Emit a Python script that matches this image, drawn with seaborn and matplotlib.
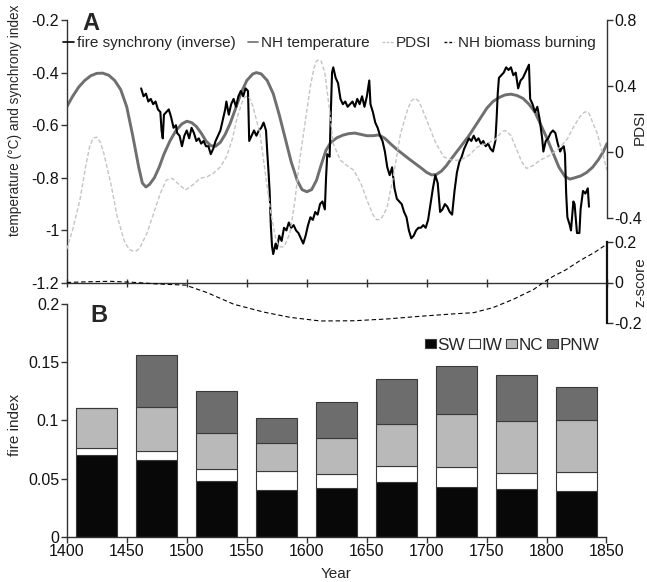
import matplotlib
matplotlib.use("Agg")
import matplotlib.pyplot as plt
import seaborn as sns
from matplotlib.lines import Line2D
from matplotlib.patches import Patch
from matplotlib.ticker import FuncFormatter

# ── Data ─────────────────────────────────────────────────────────────────────

# NH temperature (°C), left axis of panel A
temp_years = [1400, 1405, 1410, 1415, 1420, 1425, 1430, 1435, 1440, 1445, 1450,
              1455, 1460, 1463, 1466, 1469, 1473, 1477, 1481, 1486, 1491, 1496,
              1500, 1504, 1508, 1512, 1516, 1520, 1524, 1528, 1532, 1536, 1540,
              1545, 1550, 1555, 1558, 1562, 1567, 1572, 1577, 1582, 1587, 1592,
              1596, 1600, 1604, 1608, 1612, 1616, 1620, 1625, 1630, 1635, 1640,
              1645, 1650, 1655, 1660, 1665, 1670, 1675, 1680, 1685, 1690, 1695,
              1700, 1704, 1708, 1712, 1716, 1720, 1725, 1730, 1735, 1740, 1745,
              1750, 1755, 1760, 1765, 1770, 1775, 1780, 1785, 1790, 1795, 1800,
              1805, 1810, 1815, 1819, 1823, 1828, 1833, 1838, 1843, 1847, 1850]
temp_vals = [-0.53, -0.49, -0.455, -0.43, -0.412, -0.403, -0.402, -0.41, -0.43,
             -0.465, -0.53, -0.64, -0.76, -0.82, -0.835, -0.825, -0.80, -0.76,
             -0.71, -0.66, -0.62, -0.595, -0.585, -0.59, -0.605, -0.63, -0.66,
             -0.678, -0.68, -0.665, -0.635, -0.595, -0.545, -0.48, -0.43,
             -0.405, -0.40, -0.405, -0.43, -0.48, -0.56, -0.65, -0.74, -0.81,
             -0.845, -0.853, -0.845, -0.81, -0.75, -0.695, -0.665, -0.648,
             -0.638, -0.632, -0.63, -0.635, -0.64, -0.64, -0.637, -0.65, -0.672,
             -0.692, -0.71, -0.728, -0.745, -0.762, -0.78, -0.789, -0.787,
             -0.775, -0.755, -0.73, -0.70, -0.67, -0.64, -0.605, -0.57, -0.535,
             -0.51, -0.495, -0.485, -0.482, -0.487, -0.498, -0.52, -0.55, -0.60,
             -0.65, -0.705, -0.76, -0.795, -0.805, -0.80, -0.793, -0.78, -0.76,
             -0.73, -0.70, -0.67]

# PDSI, right axis of panel A
pdsi_years = [1400, 1405, 1411, 1416, 1419, 1422, 1425, 1428, 1431, 1437, 1442,
              1448, 1452, 1455, 1458, 1461, 1467, 1472, 1478, 1483, 1488, 1494,
              1499, 1505, 1511, 1517, 1522, 1528, 1533, 1538, 1542, 1546, 1548,
              1550, 1552, 1555, 1561, 1566, 1570, 1574, 1576, 1578, 1580, 1582,
              1586, 1590, 1594, 1599, 1603, 1606, 1608, 1610, 1612, 1615, 1619,
              1622, 1628, 1633, 1639, 1645, 1650, 1655, 1658, 1661, 1664, 1667,
              1672, 1678, 1684, 1687, 1690, 1693, 1695, 1700, 1707, 1714, 1721,
              1728, 1735, 1742, 1749, 1756, 1761, 1763, 1765, 1767, 1770, 1775,
              1779, 1783, 1789, 1794, 1800, 1806, 1811, 1817, 1822, 1828, 1831,
              1833, 1835, 1838, 1842, 1846, 1850]
pdsi_vals = [-0.59, -0.47, -0.29, -0.08, 0.03, 0.085, 0.09, 0.06, -0.01, -0.2,
             -0.39, -0.54, -0.59, -0.6, -0.6, -0.58, -0.49, -0.38, -0.25, -0.17,
             -0.16, -0.2, -0.23, -0.2, -0.16, -0.15, -0.13, -0.09, -0.03, 0.08,
             0.21, 0.3, 0.33, 0.34, 0.33, 0.28, 0.11, -0.16, -0.37, -0.52, -0.56,
             -0.575, -0.575, -0.56, -0.49, -0.3, -0.05, 0.2, 0.4, 0.51, 0.55,
             0.56, 0.55, 0.48, 0.25, 0.05, -0.05, -0.08, -0.11, -0.19, -0.29,
             -0.38, -0.41, -0.41, -0.38, -0.33, -0.15, 0.11, 0.26, 0.31, 0.325,
             0.31, 0.28, 0.19, 0.06, -0.03, -0.05, -0.05, -0.02, 0.03, 0.05, 0.07,
             0.11, 0.125, 0.13, 0.12, 0.1, 0.01, -0.06, -0.1, -0.08, -0.05, -0.03,
             0.0, 0.03, 0.08, 0.15, 0.22, 0.24, 0.245, 0.235, 0.18, 0.11, 0.0,
             -0.11]

# fire synchrony (inverse), left axis of panel A
fire_years = [1462, 1464, 1466, 1468, 1470, 1472, 1474, 1476, 1478, 1479, 1480,
              1481, 1483, 1485, 1487, 1489, 1491, 1492, 1494, 1496, 1498, 1500,
              1502, 1504, 1506, 1508, 1510, 1512, 1514, 1516, 1518, 1520, 1522,
              1524, 1526, 1528, 1530, 1532, 1533, 1535, 1537, 1539, 1541, 1543,
              1545, 1547, 1549, 1551, 1552, 1554, 1556, 1558, 1560, 1562, 1564,
              1566, 1567, 1568, 1569, 1570, 1571, 1572, 1574, 1575, 1577, 1579,
              1581, 1583, 1585, 1587, 1589, 1591, 1593, 1595, 1597, 1599, 1601,
              1603, 1605, 1607, 1609, 1611, 1613, 1615, 1616, 1617, 1619, 1620,
              1621, 1622, 1624, 1626, 1628, 1630, 1632, 1634, 1636, 1638, 1640,
              1642, 1644, 1646, 1648, 1650, 1652, 1653, 1655, 1657, 1659, 1661,
              1663, 1665, 1667, 1669, 1671, 1673, 1675, 1677, 1679, 1681, 1683,
              1685, 1687, 1689, 1691, 1693, 1695, 1697, 1699, 1701, 1703, 1705,
              1707, 1709, 1711, 1713, 1715, 1717, 1719, 1721, 1723, 1725, 1727,
              1729, 1731, 1733, 1735, 1737, 1739, 1741, 1743, 1745, 1747, 1749,
              1751, 1753, 1755, 1757, 1758, 1759, 1760, 1762, 1764, 1766, 1768,
              1770, 1772, 1774, 1776, 1778, 1780, 1782, 1784, 1785, 1786, 1788,
              1790, 1792, 1794, 1796, 1797, 1799, 1801, 1803, 1805, 1807, 1809,
              1811, 1812, 1814, 1815, 1816, 1817, 1819, 1820, 1822, 1823, 1825,
              1827, 1828, 1830, 1832, 1834, 1835]
fire_vals = [-0.46, -0.49, -0.48, -0.51, -0.50, -0.52, -0.51, -0.54, -0.55,
             -0.62, -0.65, -0.56, -0.55, -0.54, -0.57, -0.61, -0.60, -0.63,
             -0.64, -0.68, -0.64, -0.62, -0.65, -0.61, -0.63, -0.66, -0.65,
             -0.67, -0.66, -0.68, -0.68, -0.71, -0.69, -0.66, -0.64, -0.62,
             -0.58, -0.54, -0.51, -0.56, -0.52, -0.50, -0.53, -0.49, -0.47,
             -0.49, -0.46, -0.47, -0.66, -0.64, -0.62, -0.64, -0.62, -0.61,
             -0.59, -0.62, -0.70, -0.77, -0.85, -0.98, -1.06, -1.09, -1.05,
             -1.07, -1.02, -1.04, -0.99, -1.00, -0.97, -0.99, -0.98, -1.00,
             -1.01, -1.03, -1.05, -1.02, -0.98, -0.95, -0.96, -0.93, -0.94,
             -0.90, -0.89, -0.92, -0.80, -0.71, -0.72, -0.55, -0.40, -0.38,
             -0.42, -0.44, -0.50, -0.52, -0.51, -0.53, -0.52, -0.51, -0.53,
             -0.50, -0.52, -0.49, -0.53, -0.49, -0.43, -0.52, -0.55, -0.59,
             -0.61, -0.64, -0.66, -0.70, -0.76, -0.79, -0.76, -0.84, -0.88,
             -0.89, -0.90, -0.93, -0.95, -1.00, -1.03, -1.02, -1.00, -0.99,
             -0.99, -0.98, -0.99, -0.96, -0.90, -0.84, -0.79, -0.82, -0.93,
             -0.92, -0.90, -0.91, -0.93, -0.94, -0.85, -0.78, -0.74, -0.72,
             -0.69, -0.67, -0.65, -0.66, -0.64, -0.66, -0.65, -0.67, -0.66,
             -0.68, -0.67, -0.69, -0.70, -0.66, -0.58, -0.48, -0.42, -0.41,
             -0.40, -0.38, -0.39, -0.38, -0.41, -0.40, -0.46, -0.43, -0.42,
             -0.40, -0.38, -0.37, -0.50, -0.52, -0.55, -0.53, -0.58, -0.65,
             -0.70, -0.66, -0.65, -0.63, -0.62, -0.63, -0.67, -0.70, -0.69,
             -0.68, -0.71, -0.86, -0.95, -0.98, -1.00, -0.89, -0.90, -1.01,
             -1.01, -0.92, -0.85, -0.86, -0.84, -0.91]

# NH biomass burning (z-score)
bb_years = [1400, 1414, 1436, 1455, 1475, 1499, 1517, 1539, 1564, 1586, 1611,
            1639, 1667, 1694, 1722, 1739, 1755, 1772, 1789, 1797, 1805, 1815,
            1828, 1840, 1850]
bb_vals = [0.0, 0.003, 0.006, 0.001, -0.007, -0.013, -0.05, -0.107, -0.146,
           -0.172, -0.19, -0.189, -0.18, -0.167, -0.155, -0.149, -0.124,
           -0.083, -0.034, 0.0, 0.03, 0.06, 0.11, 0.15, 0.19]

# Panel B: fire index by region, 50-yr bins
bin_centers = [1425, 1475, 1525, 1575, 1625, 1675, 1725, 1775, 1825]
sw = [0.070, 0.066, 0.048, 0.040, 0.0415, 0.0466, 0.0424, 0.0406, 0.0389]
iw = [0.006, 0.008, 0.0105, 0.0168, 0.0125, 0.014, 0.0171, 0.0138, 0.0168]
nc = [0.035, 0.0372, 0.0304, 0.0235, 0.0309, 0.036, 0.0463, 0.0448, 0.0444]
pnw = [0.0, 0.0448, 0.036, 0.0214, 0.0312, 0.0392, 0.0406, 0.0398, 0.0285]

# ── Style ────────────────────────────────────────────────────────────────────

sns.set_theme(style="ticks")
plt.rcParams["font.family"] = ["Liberation Sans", "DejaVu Sans"]
plt.rcParams["axes.unicode_minus"] = False

W, H = 647, 582
fig = plt.figure(figsize=(W / 100, H / 100), dpi=100)
fmt = FuncFormatter(lambda v, p: f"{v:g}")


def box(x0, y_top, x1, y_bot):
    # pixel box -> figure fractions
    return [x0 / W, 1 - y_bot / H, (x1 - x0) / W, (y_bot - y_top) / H]


TICK = 11.5
SPINE = "#333333"

# ── Panel B ──────────────────────────────────────────────────────────────────

axB = fig.add_axes(box(66.7, 304, 606.5, 536.7))
edge = "#3a3a3a"
bw = 34
b_iw = [a for a in sw]
b_nc = [a + b for a, b in zip(sw, iw)]
b_pnw = [a + b + c for a, b, c in zip(sw, iw, nc)]
axB.bar(bin_centers, sw, width=bw, color="#080808", edgecolor=edge, lw=0.8, label="SW")
axB.bar(bin_centers, iw, width=bw, bottom=b_iw, color="white", edgecolor=edge, lw=0.8, label="IW")
axB.bar(bin_centers, nc, width=bw, bottom=b_nc, color="#b9b9b9", edgecolor=edge, lw=0.8, label="NC")
axB.bar(bin_centers, pnw, width=bw, bottom=b_pnw, color="#6d6d6d", edgecolor=edge, lw=0.8, label="PNW")
axB.set_xlim(1400, 1850)
axB.set_ylim(0, 0.2)
axB.set_xticks(range(1400, 1851, 50))
axB.set_yticks([0, 0.05, 0.1, 0.15, 0.2])
axB.yaxis.set_major_formatter(fmt)
sns.despine(ax=axB)
for s in ("left", "bottom"):
    axB.spines[s].set_color(SPINE)
    axB.spines[s].set_linewidth(1.0)
axB.tick_params(axis="both", labelsize=TICK, length=4, width=1, color=SPINE,
                pad=1.5, labelcolor="#111111")
axB.set_facecolor("none")
hB = [Patch(facecolor=c, edgecolor=edge, lw=0.8) for c in ("#080808", "white", "#b9b9b9", "#6d6d6d")]
axB.legend(hB, ["SW", "IW", "NC", "PNW"], ncol=4, frameon=False, fontsize=12.3,
           loc="upper right", bbox_to_anchor=(599 / W, 1 - 338 / H),
           bbox_transform=fig.transFigure, borderpad=0, borderaxespad=0,
           handlelength=0.62, handleheight=0.42, handletextpad=0.08, columnspacing=0.25)
fig.text(90 / W, 1 - 316 / H, "B", fontsize=17, fontweight="bold", va="center", ha="left")

# ── Panel A ──────────────────────────────────────────────────────────────────

axA = fig.add_axes(box(66.7, 20, 607, 283))
axA.set_facecolor("none")
axP = axA.twinx()

sns.lineplot(x=pdsi_years, y=pdsi_vals, ax=axP, color="#c4c4c4", lw=1.0,
             linestyle=(0, (3, 1.6)))
sns.lineplot(x=temp_years, y=temp_vals, ax=axA, color="#6f6f6f", lw=2.1)
sns.lineplot(x=fire_years, y=fire_vals, ax=axA, color="black", lw=1.5)

axA.set_xlim(1400, 1850)
axA.set_ylim(-1.2, -0.2)
axA.set_yticks([-1.2, -1.0, -0.8, -0.6, -0.4, -0.2])
axA.yaxis.set_major_formatter(fmt)
axA.set_xticks(range(1400, 1851, 50))
axA.set_xticklabels([])
axA.set_ylabel("")
axA.set_xlabel("")
for s in ("top", "right"):
    axA.spines[s].set_visible(False)
for s in ("left", "bottom"):
    axA.spines[s].set_color(SPINE)
    axA.spines[s].set_linewidth(1.0)
axA.tick_params(axis="y", labelsize=TICK, length=4, width=1, color=SPINE, pad=1.5,
                labelcolor="#111111")
axA.tick_params(axis="x", direction="inout", length=6, width=1, color=SPINE)

axP.set_ylim(-0.794, 0.8)
axP.set_yticks([-0.4, 0, 0.4, 0.8])
axP.yaxis.set_major_formatter(fmt)
axP.set_ylabel("")
for s in ("top", "left", "bottom"):
    axP.spines[s].set_visible(False)
axP.spines["right"].set_bounds(-0.4, 0.8)
axP.spines["right"].set_color(SPINE)
axP.spines["right"].set_linewidth(1.0)
axP.tick_params(axis="y", labelsize=TICK, length=4, width=1, color=SPINE, pad=1.5,
                labelcolor="#111111")

# z-score axis for NH biomass burning (reaches down into panel B)
axZ = fig.add_axes(box(66.7, 242, 607, 323))
axZ.set_facecolor("none")
sns.lineplot(x=bb_years, y=bb_vals, ax=axZ, color="black", lw=0.8,
             linestyle=(0, (4, 2.5)))
axZ.set_xlim(1400, 1850)
axZ.set_ylim(-0.2, 0.2)
axZ.set_yticks([-0.2, 0, 0.2])
axZ.yaxis.set_major_formatter(fmt)
axZ.yaxis.tick_right()
axZ.set_xticks([])
axZ.set_xlabel("")
axZ.set_ylabel("")
for s in ("top", "left", "bottom"):
    axZ.spines[s].set_visible(False)
axZ.spines["right"].set_color("#111111")
axZ.spines["right"].set_linewidth(1.6)
axZ.tick_params(axis="y", labelsize=TICK, length=4, width=1, color=SPINE, pad=1.5,
                labelcolor="#111111")

# legend for panel A
hA = [Line2D([], [], color="black", lw=1.2),
      Line2D([], [], color="#6f6f6f", lw=1.2),
      Line2D([], [], color="#c4c4c4", lw=1.0, linestyle=(0, (2, 1))),
      Line2D([], [], color="black", lw=1.0, linestyle=(0, (2, 1.5)))]
axA.legend(hA, ["fire synchrony (inverse)", "NH temperature", "PDSI", "NH biomass burning"],
           ncol=4, frameon=False, fontsize=11, loc="upper left",
           bbox_to_anchor=(63 / W, 1 - 36 / H), bbox_transform=fig.transFigure,
           borderpad=0, borderaxespad=0, handlelength=0.7, handletextpad=0.2,
           columnspacing=0.8)
fig.text(82 / W, 1 - 23 / H, "A", fontsize=17, fontweight="bold", va="center", ha="left")

# ── Axis labels ──────────────────────────────────────────────────────────────

fig.text(15 / W, 1 - 120 / H, "temperature (°C) and synchrony index", rotation=90,
         fontsize=9.8, ha="center", va="center")
fig.text(640 / W, 1 - 127 / H, "PDSI", rotation=90, fontsize=11, ha="center", va="center")
fig.text(640 / W, 1 - 282 / H, "z-score", rotation=90, fontsize=11, ha="center", va="center")
fig.text(15 / W, 1 - 425 / H, "fire index", rotation=90, fontsize=11, ha="center", va="center")
fig.text(336 / W, 1 - 574 / H, "Year", fontsize=11, ha="center", va="center")

fig.savefig("out.png", dpi=100)
